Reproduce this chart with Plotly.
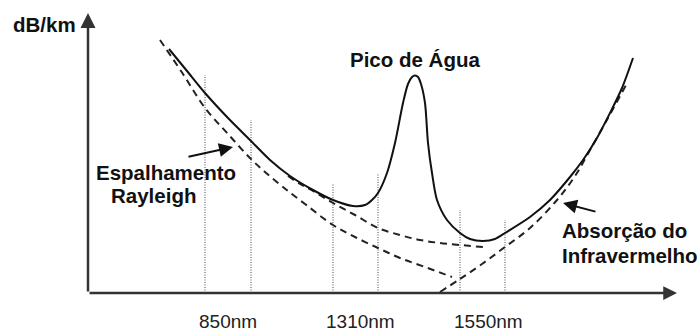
import plotly.graph_objects as go

# ---- data (horizontal position units from axis origin, attenuation units) ----
total_x = [81, 99, 117, 140, 162, 182, 202, 225, 245, 265, 277, 284, 290, 299, 307, 315, 320, 324, 327,
           330, 333, 337, 340, 344, 349, 359, 372, 382, 395, 407, 417, 442, 462, 482, 495, 509, 522, 534, 545]
total_y = [244, 222, 200, 175, 153, 133, 117, 103, 93, 87, 88, 93, 100, 120, 150, 190, 209, 216, 217.5,
           216, 209, 190, 150, 120, 93, 73, 60, 54, 52, 54, 60, 76, 93, 116, 133, 155, 180, 205, 235]

sum_x = [200, 212, 225, 245, 267, 290, 312, 332, 352, 372, 395]
sum_y = [117, 109, 102, 90, 78, 65, 58, 53, 50, 48, 46]

rayleigh_x = [72, 95, 117, 140, 162, 177, 195, 217, 245, 267, 290, 312, 337, 364]
rayleigh_y = [253, 219, 185, 159, 135, 121, 106, 89, 68, 56, 45, 35, 26, 16]

ir_x = [352, 372, 394, 417, 442, 469, 487, 502, 520, 538]
ir_y = [1, 14, 29, 46, 65, 93, 117, 143, 175, 208]

window_x = [117, 163, 245, 290, 372, 417]
window_top = [218, 173, 110, 119, 83, 73]

tick_labels = ["850nm", "1310nm", "1550nm"]
tick_pos = [139.5, 272, 400]

y_label = "dB/km"
peak_label = "Pico de Água"
rayleigh_label = ["Espalhamento", "Rayleigh"]
ir_label = ["Absorção do", "Infravermelho"]

# ---- layout constants ----
X_MIN, X_MAX = -88, 609
Y_MIN, Y_MAX = -40, 293
FONT = "Liberation Sans, Arial, sans-serif"
INK = "#111111"

fig = go.Figure()

# dotted window lines
for wx, wt in zip(window_x, window_top):
    fig.add_trace(go.Scatter(x=[wx, wx], y=[0, wt], mode="lines",
                             line=dict(color="#666666", width=1.2, dash="1px,1.5px"),
                             hoverinfo="skip"))

dash_style = dict(color="#222222", width=2, dash="7px,5px")
fig.add_trace(go.Scatter(x=rayleigh_x, y=rayleigh_y, mode="lines", line=dict(shape="spline", **dash_style)))
fig.add_trace(go.Scatter(x=sum_x, y=sum_y, mode="lines", line=dict(shape="spline", **dash_style)))
fig.add_trace(go.Scatter(x=ir_x, y=ir_y, mode="lines", line=dict(shape="spline", **dash_style)))
fig.add_trace(go.Scatter(x=total_x, y=total_y, mode="lines",
                         line=dict(color=INK, width=2, shape="spline", smoothing=0.8)))

annotations = []
# axes with arrows
axis_color = "#333333"
annotations.append(dict(x=0, y=280, ax=0, ay=0, xref="x", yref="y", axref="x", ayref="y",
                        text="", showarrow=True, arrowhead=2, arrowsize=1.2, arrowwidth=2.5,
                        arrowcolor=axis_color, standoff=0))
annotations.append(dict(x=589, y=0, ax=0, ay=0, xref="x", yref="y", axref="x", ayref="y",
                        text="", showarrow=True, arrowhead=2, arrowsize=1.1, arrowwidth=2.5,
                        arrowcolor=axis_color, standoff=0))

bold = dict(family=FONT, size=20.5, color=INK)
annotations.append(dict(x=-44, y=269, xref="x", yref="y", text="<b>%s</b>" % y_label,
                        showarrow=False, font=bold, xanchor="center", yanchor="middle"))
annotations.append(dict(x=327, y=234, xref="x", yref="y", text="<b>%s</b>" % peak_label,
                        showarrow=False, font=bold, xanchor="center", yanchor="middle"))
annotations.append(dict(x=78, y=121, xref="x", yref="y", text="<b>%s</b>" % rayleigh_label[0],
                        showarrow=False, font=bold, xanchor="center", yanchor="middle"))
annotations.append(dict(x=65.5, y=97.5, xref="x", yref="y", text="<b>%s</b>" % rayleigh_label[1],
                        showarrow=False, font=bold, xanchor="center", yanchor="middle"))
annotations.append(dict(x=472, y=62.5, xref="x", yref="y", text="<b>%s</b>" % ir_label[0],
                        showarrow=False, font=bold, xanchor="left", yanchor="middle"))
annotations.append(dict(x=472, y=37.5, xref="x", yref="y", text="<b>%s</b>" % ir_label[1],
                        showarrow=False, font=bold, xanchor="left", yanchor="middle"))

# pointer arrows
annotations.append(dict(x=145, y=146, ax=99, ay=136, xref="x", yref="y", axref="x", ayref="y",
                        text="", showarrow=True, arrowhead=2, arrowsize=1.4, arrowwidth=2,
                        arrowcolor=INK, standoff=0))
annotations.append(dict(x=475, y=90, ax=509, ay=81, xref="x", yref="y", axref="x", ayref="y",
                        text="", showarrow=True, arrowhead=2, arrowsize=1.4, arrowwidth=2,
                        arrowcolor=INK, standoff=0))

# tick labels
for lab, pos in zip(tick_labels, tick_pos):
    annotations.append(dict(x=pos, y=-28, xref="x", yref="y", text=lab, showarrow=False,
                            font=dict(family=FONT, size=19, color="#222222"),
                            xanchor="center", yanchor="middle"))

fig.update_layout(
    width=697, height=333,
    margin=dict(l=0, r=0, t=0, b=0),
    paper_bgcolor="white", plot_bgcolor="white",
    showlegend=False, hovermode=False,
    xaxis=dict(range=[X_MIN, X_MAX], visible=False, fixedrange=True),
    yaxis=dict(range=[Y_MIN, Y_MAX], visible=False, fixedrange=True),
    annotations=annotations,
)

fig.write_html("out.html")
